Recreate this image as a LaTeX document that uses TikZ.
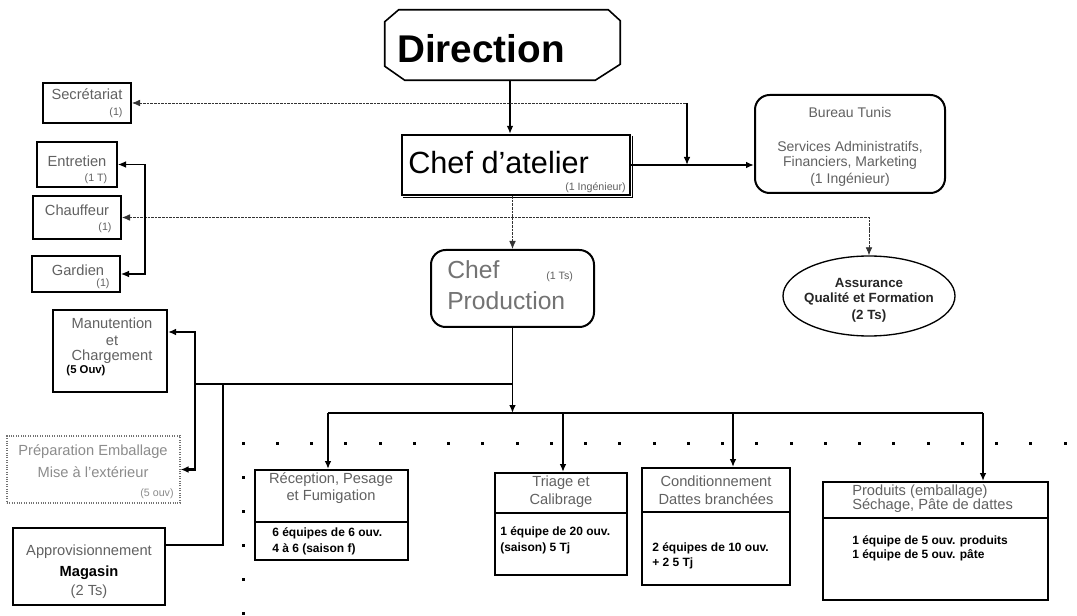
\documentclass[tikz,border=0pt]{standalone}
\usepackage{fontspec}
\setmainfont{Liberation Sans}
\usetikzlibrary{arrows.meta,fit,calc,shapes.geometric}

\tikzset{
  boxframe/.style={draw=black, line width=1.5pt, inner sep=0pt},
  roundframe/.style={draw=black, line width=1.5pt, inner sep=0pt, rounded corners=11pt},
  faintframe/.style={draw=black!55, line width=0.8pt, densely dotted, inner sep=0pt},
  softtext/.style={text=black!62, inner sep=0pt, font=\fontsize{11}{13}\selectfont, align=center},
  strongtext/.style={text=black, inner sep=0pt, font=\bfseries\fontsize{9}{11}\selectfont, align=left},
  smalltext/.style={text=black!62, inner sep=0pt, font=\fontsize{8}{9}\selectfont},
  endtip/.style={-{Latex[length=6pt,width=5pt]}},
  bothtips/.style={{Latex[length=6pt,width=5pt]}-{Latex[length=6pt,width=5pt]}},
  arrowline/.style={line width=1.1pt},
  dotline/.style={line width=0.6pt, black!80, dash pattern=on 2pt off 0.7pt},
  heavyline/.style={line width=1.9pt},
  busline/.style={line width=1.3pt},
  dotmark/.style={fill=black},
}

\begin{document}
\begin{tikzpicture}[x=0.75pt,y=-0.75pt]
\useasboundingbox (0,0) rectangle (1077,616);
\fill[white] (0,0) rectangle (1077,616);

% ---------- top management ----------
\node[inner sep=0pt, fit={(385,10) (620,80)}] (dir) {};
\draw[line width=1.2pt]
  ($(dir.north west)+(14,0)$) -- ($(dir.north east)+(-12,0)$) --
  ($(dir.north east)+(0,11)$) -- ($(dir.south east)+(0,-16)$) --
  ($(dir.south east)+(-25,0)$) -- ($(dir.south west)+(20,0)$) --
  ($(dir.south west)+(0,-14)$) -- ($(dir.north west)+(0,12)$) -- cycle;
\node[anchor=base west, inner sep=0pt, font=\bfseries\fontsize{29}{32}\selectfont] (dirt) at (397,63) {Direction};

\node[boxframe, line width=1.7pt, fit={(402,135) (630,195)}] (atel) {};
\draw[line width=1.2pt] ($(atel.north east)+(1.5,2)$) -- ($(atel.south east)+(1.5,1.5)$) -- ($(atel.south west)+(2,1.5)$);
\node[anchor=base west, inner sep=0pt, font=\fontsize{23}{26}\selectfont] (atelt) at (408,174) {Chef d'atelier};
\node[smalltext, anchor=base east] (atels) at (626,191) {(1 Ingénieur)};

\node[roundframe, fit={(755,95) (945,193)}] (bur) {};
\node[softtext, font=\fontsize{10.5}{12}\selectfont] (burt1) at (850,112) {Bureau Tunis};
\node[softtext, font=\fontsize{10.5}{12}\selectfont] (burt2) at (850,147) {Services Administratifs,};
\node[softtext, font=\fontsize{10.5}{12}\selectfont] (burt3) at (850,163) {Financiers, Marketing};
\node[softtext, font=\fontsize{10.5}{12}\selectfont] (burt4) at (850,180) {(1 Ingénieur)};

% ---------- staff on the left ----------
\node[boxframe, fit={(43,83) (131,123)}] (sec) {};
\node[softtext] (sect) at (87,94) {Secrétariat};
\node[smalltext] (secs) at (116,113) {(1)};

\node[boxframe, fit={(37,142) (117,187)}] (ent) {};
\node[softtext] (entt) at (77,161) {Entretien};
\node[smalltext] (ents) at (96,179) {(1 T)};

\node[boxframe, fit={(33,196) (121,239)}] (chf) {};
\node[softtext] (chft) at (77,210) {Chauffeur};
\node[smalltext] (chfs) at (105,228) {(1)};

\node[boxframe, fit={(32,256) (120,292)}] (gar) {};
\node[softtext] (gart) at (78,270) {Gardien};
\node[smalltext] (gars) at (103,284) {(1)};

% ---------- quality ----------
\node[draw, ellipse, line width=1pt, minimum width=129pt, minimum height=60pt, inner sep=0pt] (aqf) at (869,296) {};
\node[inner sep=0pt, font=\bfseries\fontsize{10}{12}\selectfont, text=black!85] (aqft1) at (869,283) {Assurance};
\node[inner sep=0pt, font=\bfseries\fontsize{10}{12}\selectfont, text=black!85] (aqft2) at (869,299) {Qualité et Formation};
\node[inner sep=0pt, font=\bfseries\fontsize{10}{12}\selectfont, text=black!85] (aqft3) at (869,316) {(2 Ts)};

% ---------- production ----------
\node[roundframe, fit={(431,250) (594,327)}] (prod) {};
\node[anchor=base west, inner sep=0pt, text=black!55, font=\fontsize{18.5}{20}\selectfont] (prodt1) at (447,279) {Chef};
\node[anchor=base west, inner sep=0pt, text=black!55, font=\fontsize{18.5}{20}\selectfont] (prodt2) at (447,310) {Production};
\node[smalltext, anchor=base west] (prods) at (546,280) {(1 Ts)};

\node[boxframe, fit={(53,310) (167,392)}] (man) {};
\node[softtext] (mant1) at (112,323) {Manutention};
\node[softtext] (mant2) at (112,341) {et};
\node[softtext] (mant3) at (112,357) {Chargement};
\node[inner sep=0pt, font=\bfseries\fontsize{8.5}{10}\selectfont] (mans) at (86,371) {(5 Ouv)};

\node[faintframe, fit={(7,436) (180,503)}] (prep) {};
\node[softtext, text=black!45] (prept1) at (93,452) {Préparation Emballage};
\node[softtext, text=black!45] (prept2) at (93,472) {Mise à l'extérieur};
\node[smalltext, text=black!45] (preps) at (157,494) {(5 ouv)};

\node[boxframe, fit={(13,528) (165,605)}] (appro) {};
\node[softtext] (appt1) at (89,552) {Approvisionnement};
\node[inner sep=0pt, font=\bfseries\fontsize{11}{13}\selectfont] (appt2) at (89,573) {Magasin};
\node[softtext] (appt3) at (89,592) {(2 Ts)};

% ---------- workshop teams ----------
\node[boxframe, fit={(255,470) (408,560)}] (b1) {};
\draw[line width=1.3pt] (b1.west |- 0,522) -- (b1.east |- 0,522);
\node[softtext] (b1t1) at (331,480) {Réception, Pesage};
\node[softtext] (b1t2) at (331,497) {et Fumigation};
\node[strongtext, anchor=west] (b1s1) at (272,533) {6 équipes de 6 ouv.};
\node[strongtext, anchor=west] (b1s2) at (272,549) {4 à 6 (saison f)};

\node[boxframe, fit={(495,473) (627,575)}] (b2) {};
\draw[line width=1.3pt] (b2.west |- 0,513) -- (b2.east |- 0,513);
\node[softtext] (b2t1) at (561,483) {Triage et};
\node[softtext] (b2t2) at (561,501) {Calibrage};
\node[strongtext, anchor=west] (b2s1) at (500,532) {1 équipe de 20 ouv.};
\node[strongtext, anchor=west] (b2s2) at (500,548) {(saison) 5 Tj};

\node[boxframe, fit={(642,468) (790,585)}] (b3) {};
\draw[line width=1.3pt] (b3.west |- 0,512) -- (b3.east |- 0,512);
\node[softtext] (b3t1) at (716,481) {Conditionnement};
\node[softtext] (b3t2) at (716,499) {Dattes branchées};
\node[strongtext, anchor=west] (b3s1) at (652,548) {2 équipes de 10 ouv.};
\node[strongtext, anchor=west] (b3s2) at (652,563) {+ 2 5 Tj};

\node[boxframe, fit={(823,482) (1048,600)}] (b4) {};
\draw[line width=1.3pt] (b4.west |- 0,518) -- (b4.east |- 0,518);
\node[softtext, anchor=west] (b4t1) at (852,492) {Produits (emballage)};
\node[softtext, anchor=west] (b4t2) at (852,506) {Séchage, Pâte de dattes};
\node[strongtext, anchor=west] (b4s1) at (852,541) {1 équipe de 5 ouv. produits};
\node[strongtext, anchor=west] (b4s2) at (852,555) {1 équipe de 5 ouv. pâte};

% ---------- dotted boundary of the workshop ----------
\foreach \i in {0,...,24}
  \fill[dotmark] (241.5+\i*34.25,441.5) rectangle ++(3,3.5);
\foreach \j in {1,...,5}
  \fill[dotmark] (241.5,441.5+\j*34) rectangle ++(3,3.5);

% ---------- connectors ----------
\coordinate (xdir) at (510,0);
\draw[arrowline, endtip] (dir.south -| xdir) -- (atel.north -| xdir);

\coordinate (sbend) at (687,107);
\draw[dotline, {Latex[length=6pt,width=5pt]}-] (sec.east) -- (sec.east -| sbend);
\draw[arrowline, endtip] (sec.east -| sbend) -- (sbend |- atel.east);
\draw[heavyline, endtip] (atel.east) -- (atel.east -| bur.west);

\draw[dotline, endtip] (atel.south -| prod.north) -- (prod.north);
\draw[dotline, bothtips] (chf.east) -- (chf.east -| aqf.north) -- (aqf.north);

\coordinate (brk) at (145,0);
\draw[line width=0.8pt, bothtips] (ent.east) -- (ent.east -| brk) -- (gar.east -| brk) -- (gar.east);

\coordinate (h1) at (195,384);
\coordinate (h2) at (223,384);
\coordinate (manY) at (0,332);
\coordinate (apY) at (0,545);
\coordinate (busL) at (328,413);
\coordinate (busR) at (983,413);
\coordinate (ab2) at (563,413);
\coordinate (ab3) at (733,413);

\draw[heavyline] (h1) -- (prod.south |- h1);
\draw[heavyline, endtip] (h1) -- (h1 |- manY) -- (man.east |- manY);
\draw[heavyline, endtip] (h1) -- (h1 |- prep.east) -- (prep.east);
\draw[heavyline] (h2) -- (h2 |- apY) -- (appro.east |- apY);

\draw[busline, endtip] (prod.south) -- (prod.south |- busL);
\draw[busline] (busL) -- (busR);
\draw[busline, endtip] (busL) -- (b1.north -| busL);
\draw[busline, endtip] (ab2) -- (b2.north -| ab2);
\draw[busline, endtip] (ab3) -- (b3.north -| ab3);
\draw[busline, endtip] (busR) -- (b4.north -| busR);
\end{tikzpicture}
\end{document}
